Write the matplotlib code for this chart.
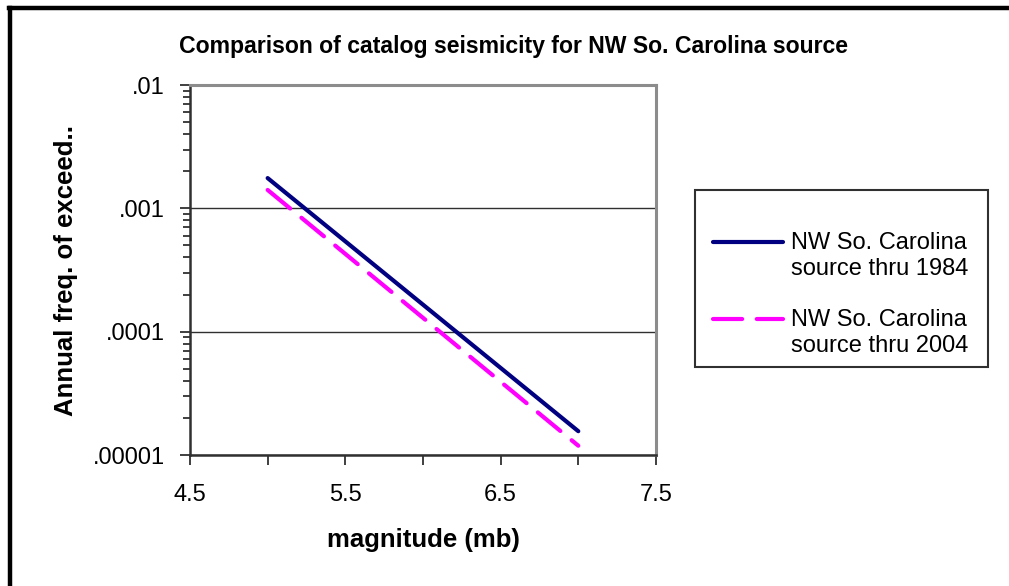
import matplotlib
matplotlib.use("Agg")
import matplotlib.pyplot as plt
from matplotlib.lines import Line2D
from matplotlib.patches import Rectangle
from matplotlib.legend_handler import HandlerLine2D
from matplotlib.ticker import FixedLocator, LogLocator, NullFormatter

# ------ data ---------------------------
magnitude = [5.0, 7.0]
freq_1984 = [1.76e-3, 1.56e-5]
freq_2004 = [1.41e-3, 1.19e-5]
label_1984 = "NW So. Carolina\nsource thru 1984"
label_2004 = "NW So. Carolina\nsource thru 2004"
x_ticks = [4.5, 5.5, 6.5, 7.5]
y_ticks = [1e-5, 1e-4, 1e-3, 1e-2]
y_tick_labels = [".00001", ".0001", ".001", ".01"]

plt.rcParams['font.family'] = ['Liberation Sans', 'DejaVu Sans']


class FirstLineHandler(HandlerLine2D):
	# excel puts the legend key next to the first text line, not the middle
	def create_artists(self, legend, orig_handle, xdescent, ydescent,
			width, height, fontsize, trans):
		artists = super().create_artists(legend, orig_handle, xdescent, ydescent,
			width, height, fontsize, trans)
		for a in artists:
			a.set_ydata([y + 0.6 * fontsize for y in a.get_ydata()])
		return artists


def plot_graph():
	fig = plt.figure(figsize=(10.09, 5.86), dpi=100)
	ax = fig.add_axes([0.1883, 0.2235, 0.4618, 0.6314])

	l1, = ax.plot(magnitude, freq_1984, color='#000080', lw=3, solid_capstyle='round',
		label=label_1984)
	l2, = ax.plot(magnitude, freq_2004, color='#FF00FF', lw=3, dashes=(7, 3.5),
		dash_capstyle='round', label=label_2004)

	ax.set_yscale('log')
	ax.set_ylim(1e-5, 1e-2)
	ax.set_xlim(4.5, 7.5)

	ax.set_xticks(x_ticks)
	ax.set_xticklabels([str(v) for v in x_ticks])
	ax.xaxis.set_minor_locator(FixedLocator([5.0, 6.0, 7.0]))
	ax.set_yticks(y_ticks)
	ax.set_yticklabels(y_tick_labels)
	ax.yaxis.set_minor_locator(LogLocator(base=10, subs=range(2, 10)))
	ax.yaxis.set_minor_formatter(NullFormatter())

	ax.tick_params(axis='both', which='major', labelsize=17, direction='out',
		length=7, width=1.3, color='#303030')
	ax.tick_params(axis='x', which='major', pad=14)
	ax.tick_params(axis='y', which='major', pad=11)
	ax.tick_params(axis='both', which='minor', direction='out', length=7,
		width=1.3, color='#303030')
	ax.tick_params(axis='y', which='minor', length=5)

	ax.grid(True, which='major', axis='y', color='#303030', lw=1)
	for side in ['left', 'bottom']:
		ax.spines[side].set_color('#303030')
		ax.spines[side].set_linewidth(1.8)
	for side in ['top', 'right']:
		ax.spines[side].set_color('#8c8c8c')
		ax.spines[side].set_linewidth(2.2)

	ax.set_xlabel('magnitude (mb)', fontsize=18.5, fontweight='bold', labelpad=16)
	ax.set_ylabel('Annual freq. of exceed..', fontsize=18.5, fontweight='bold')
	ax.yaxis.set_label_coords(-0.240, 0.5)
	fig.text(0.5085, 0.921, 'Comparison of catalog seismicity for NW So. Carolina source',
		ha='center', va='center', fontsize=16.6, fontweight='bold')

	# legend frame drawn like the excel box, entries placed inside it
	fig.add_artist(Rectangle((0.6888, 0.3737), 0.2904, 0.3021, fill=False,
		edgecolor='#303030', lw=1.5, transform=fig.transFigure))
	leg = fig.legend(handles=[l1, l2], loc='upper left',
		bbox_to_anchor=(0.7066, 0.6035), fontsize=17, frameon=False,
		handlelength=2.96, labelspacing=1.25, borderpad=0, borderaxespad=0,
		handletextpad=0.34, handler_map={Line2D: FirstLineHandler()})

	# outer chart border (left and top edges visible)
	fig.add_artist(Line2D([0.0099, 0.0099], [0.0, 0.987], color='black', lw=3.2,
		transform=fig.transFigure))
	fig.add_artist(Line2D([0.0085, 1.0], [0.987, 0.987], color='black', lw=3.2,
		transform=fig.transFigure))

	fig.savefig('out.png', dpi=100)


if __name__ == "__main__":
	plot_graph()
